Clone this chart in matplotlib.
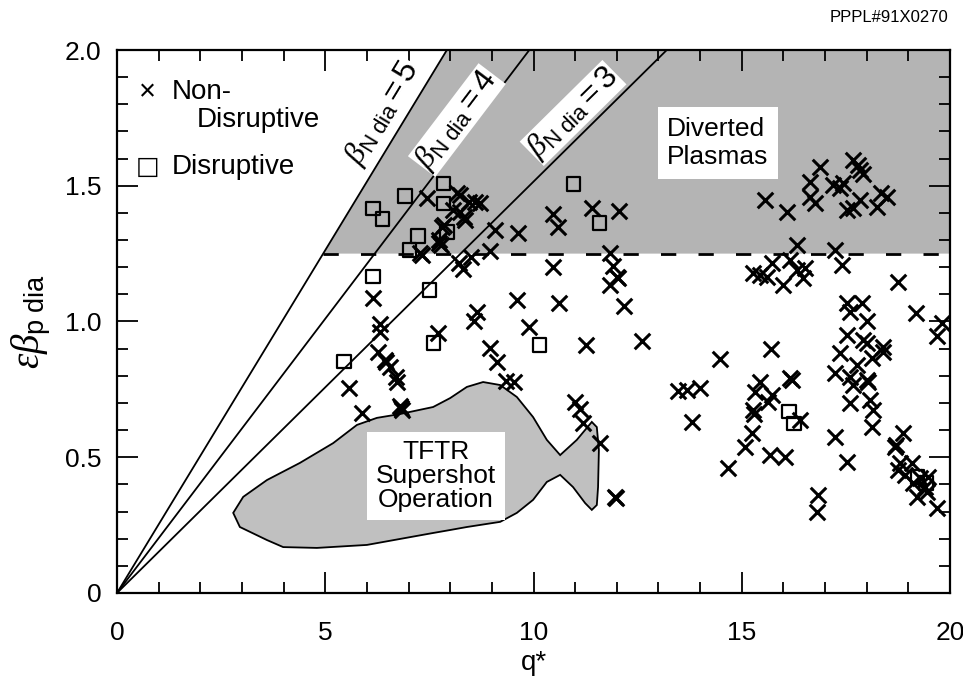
import numpy as np
import matplotlib
matplotlib.use("Agg")
import matplotlib.pyplot as plt
from matplotlib.ticker import MultipleLocator, FixedFormatter, FixedLocator

plt.rcParams['font.family'] = ['Liberation Sans', 'DejaVu Sans']
plt.rcParams['mathtext.fontset'] = 'custom'
plt.rcParams['mathtext.rm'] = 'Liberation Sans'
plt.rcParams['mathtext.it'] = 'Liberation Serif:italic'

# non-disruptive shots (q*, eps*beta_p dia)
nd_q = [7.44, 8.16, 8.24, 8.44, 8.60, 8.72, 8.07, 8.24, 8.32, 8.36, 7.84, 7.80, 7.72, 7.74, 7.77,
        7.27, 7.32, 9.08, 9.62, 8.96, 8.50, 8.22, 8.30,
        10.46, 10.60, 11.40, 12.05,
        11.84, 11.92, 12.00, 12.03, 11.84, 10.48, 10.62, 12.17, 9.60,
        6.15, 8.64, 8.58, 9.88, 6.31, 6.31, 7.70, 8.96, 9.12, 6.27, 6.43, 6.47, 6.55, 6.69, 6.72,
        9.34, 9.52, 5.58, 6.80, 6.84, 6.82, 5.89,
        11.25, 12.60, 14.48, 13.48, 13.68, 14.00, 13.80, 11.00, 11.12, 11.18, 11.96, 11.98, 11.60,
        17.68, 17.84, 17.78, 17.90, 16.88, 16.64, 17.20, 17.36, 17.44, 15.56, 16.08, 16.64, 16.76,
        17.52, 17.68, 17.84, 18.24, 18.34, 18.48, 16.32, 17.24,
        17.40, 15.28, 15.45, 15.60, 15.72, 15.99, 16.16, 16.32, 16.52, 16.48, 18.76, 17.52, 17.88,
        17.60, 18.00, 19.18, 19.80, 19.68, 17.52, 17.92, 18.00, 18.40, 15.70,
        17.36, 18.12, 18.40, 17.76, 17.24, 17.60, 17.68, 18.00, 18.04, 17.60, 18.08, 18.16, 18.12,
        16.16, 16.20, 15.44, 15.32, 15.72, 15.64, 15.28, 15.30, 16.40, 15.24, 15.08, 15.68, 16.04,
        14.68, 17.24, 17.52, 16.84, 16.80, 18.88, 18.68, 18.70, 18.80, 19.08, 18.76, 18.92, 19.28,
        19.48, 19.12, 19.40, 19.44, 19.20, 19.68]
nd_b = [1.454, 1.472, 1.466, 1.441, 1.441, 1.435, 1.410, 1.404, 1.386, 1.374, 1.355, 1.349, 1.300, 1.290, 1.280,
        1.251, 1.245, 1.337, 1.325, 1.260, 1.239, 1.216, 1.194,
        1.395, 1.349, 1.417, 1.406,
        1.251, 1.205, 1.165, 1.160, 1.134, 1.202, 1.069, 1.057, 1.079,
        1.085, 1.036, 1.000, 0.981, 0.990, 0.962, 0.958, 0.901, 0.852, 0.889, 0.858, 0.850, 0.832, 0.797, 0.778,
        0.781, 0.778, 0.754, 0.690, 0.674, 0.680, 0.662,
        0.913, 0.928, 0.862, 0.745, 0.748, 0.754, 0.631, 0.705, 0.676, 0.625, 0.354, 0.350, 0.552,
        1.595, 1.558, 1.575, 1.545, 1.570, 1.515, 1.503, 1.490, 1.509, 1.447, 1.405, 1.460, 1.435,
        1.411, 1.417, 1.447, 1.423, 1.472, 1.460, 1.282, 1.263,
        1.208, 1.178, 1.170, 1.165, 1.214, 1.134, 1.227, 1.190, 1.196, 1.159, 1.147, 1.067, 1.067,
        1.036, 1.000, 1.031, 0.993, 0.947, 0.950, 0.932, 0.920, 0.905, 0.900,
        0.883, 0.864, 0.889, 0.840, 0.809, 0.797, 0.766, 0.785, 0.778, 0.699, 0.711, 0.674, 0.613,
        0.791, 0.785, 0.778, 0.741, 0.729, 0.705, 0.674, 0.660, 0.637, 0.588, 0.539, 0.508, 0.502,
        0.459, 0.576, 0.484, 0.361, 0.300, 0.588, 0.539, 0.545, 0.478, 0.478, 0.453, 0.435, 0.422,
        0.428, 0.404, 0.392, 0.373, 0.355, 0.312]

# disruptive shots
d_q = [7.84, 7.84, 6.91, 6.14, 6.38, 7.23, 7.92, 7.02, 6.14, 7.50, 7.60, 5.45,
       10.96, 11.58, 10.14, 16.14, 16.25, 19.22, 19.42]
d_b = [1.509, 1.435, 1.462, 1.417, 1.378, 1.315, 1.330, 1.263, 1.165, 1.116, 0.920, 0.852,
       1.506, 1.362, 0.913, 0.668, 0.625, 0.428, 0.405]

# constant beta_N dia lines: eps*beta_p = beta_N * q* / K
beta_n = [5, 4, 3]
K = 19.8
label_q = [6.39, 8.16, 10.95]
label_b = [1.768, 1.742, 1.768]

diverted_floor = 1.25

# outline of the supershot operating region (upper edge, tail, lower edge)
tftr_q = [2.79, 3.03, 3.60, 4.39, 5.19, 5.76, 6.24, 6.79, 7.59, 8.00, 8.40, 8.79, 9.20, 9.60,
          9.99, 10.32, 10.64, 11.04, 11.40, 11.52, 11.57, 11.55, 11.52, 11.40, 11.24, 10.95,
          10.64, 10.32, 9.99, 9.60, 9.20, 8.40, 8.00, 7.59, 6.00, 4.80, 3.99, 3.60, 2.95]
tftr_b = [0.295, 0.354, 0.416, 0.479, 0.552, 0.619, 0.645, 0.659, 0.685, 0.718, 0.759, 0.777,
          0.766, 0.722, 0.648, 0.564, 0.508, 0.564, 0.630, 0.611, 0.527, 0.390, 0.324, 0.306,
          0.331, 0.390, 0.435, 0.409, 0.343, 0.295, 0.262, 0.243, 0.232, 0.221, 0.177, 0.166,
          0.169, 0.195, 0.243]

fig = plt.figure(figsize=(9.63, 6.86), dpi=100)
ax = fig.add_axes([0.1215, 0.1356, 0.865, 0.7915])
ax.set_xlim(0, 20)
ax.set_ylim(0, 2.0)

# diverted plasma band above the dashed line
q_lo = diverted_floor * K / beta_n[0]
q_hi = 2.0 * K / beta_n[0]
ax.fill([q_lo, q_hi, 20, 20], [diverted_floor, 2.0, 2.0, diverted_floor],
        color='#b4b4b4', lw=0, zorder=1)
ax.plot([q_lo, 20], [diverted_floor, diverted_floor], color='black', lw=2,
        dashes=(5.5, 8), zorder=2)

ax.fill(tftr_q, tftr_b, facecolor='#c0c0c0', edgecolor='black', lw=1.3, zorder=1)

qq = np.linspace(0, 20, 50)
for bn, lq, lb in zip(beta_n, label_q, label_b):
    ax.plot(qq, bn * qq / K, color='black', lw=1.3, zorder=3)
    ang = np.degrees(np.arctan(bn / K))
    ax.text(lq, lb, r'$\beta_{\mathrm{N\ dia}}=%d$' % bn, fontsize=23, rotation=ang,
            rotation_mode='anchor', transform_rotates_text=True, ha='center', va='center',
            bbox=dict(facecolor='white', edgecolor='none', pad=0.5), zorder=4)

ax.scatter(nd_q, nd_b, marker='x', s=125, color='black', linewidths=2.2, zorder=5)
ax.scatter(d_q, d_b, marker='s', s=95, facecolors='none', edgecolors='black',
           linewidths=1.6, zorder=5)

ax.text(14.43, 1.657, 'Diverted\nPlasmas', fontsize=19, ha='center', va='center',
        multialignment='left', bbox=dict(facecolor='white', edgecolor='none', pad=7), zorder=4)
ax.text(7.66, 0.431, 'TFTR\nSupershot\nOperation', fontsize=19, ha='center', va='center',
        multialignment='center', linespacing=1.0,
        bbox=dict(facecolor='white', edgecolor='none', pad=6), zorder=4)

# legend
ax.text(0.037, 0.923, '\u00d7', transform=ax.transAxes, fontsize=21, ha='center', va='center')
ax.text(0.066, 0.923, 'Non-', transform=ax.transAxes, fontsize=20, ha='left', va='center')
ax.text(0.096, 0.871, 'Disruptive', transform=ax.transAxes, fontsize=20, ha='left', va='center')
ax.text(0.037, 0.785, '\u25a1', transform=ax.transAxes, fontsize=18, ha='center', va='center',
        family='DejaVu Sans')
ax.text(0.066, 0.785, 'Disruptive', transform=ax.transAxes, fontsize=20, ha='left', va='center')

ax.xaxis.set_major_locator(MultipleLocator(5))
ax.xaxis.set_minor_locator(MultipleLocator(1))
ax.yaxis.set_major_locator(FixedLocator([0, 0.5, 1.0, 1.5, 2.0]))
ax.yaxis.set_major_formatter(FixedFormatter(['0', '0.5', '1.0', '1.5', '2.0']))
ax.yaxis.set_minor_locator(MultipleLocator(0.1))
ax.tick_params(which='both', direction='in', top=True, right=True, width=1.3, labelsize=19)
ax.tick_params(which='major', length=15)
ax.tick_params(which='minor', length=8)
ax.tick_params(axis='x', pad=20)
ax.tick_params(axis='y', pad=11)
for s in ax.spines.values():
    s.set_linewidth(1.6)

ax.set_xlabel('q*', fontsize=20, labelpad=4)
ax.set_ylabel(r'$\varepsilon\beta_{\mathrm{p\ dia}}$', fontsize=28, labelpad=8)

fig.text(0.985, 0.975, 'PPPL#91X0270', fontsize=12, ha='right', va='center')

fig.savefig('out.png', dpi=100)
